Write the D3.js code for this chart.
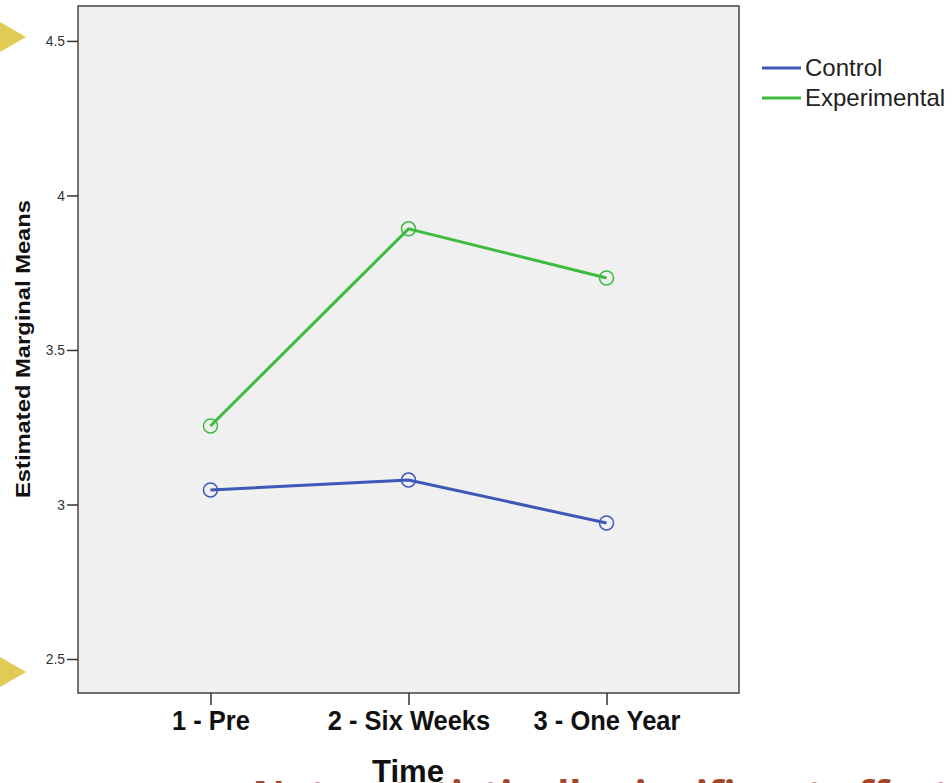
<!DOCTYPE html>
<html><head><meta charset="utf-8">
<script src="https://cdn.jsdelivr.net/npm/d3@7"></script>
<style>body{margin:0;background:#fff;} svg{display:block;}</style>
</head><body>
<script>
const categories = ["1 - Pre", "2 - Six Weeks", "3 - One Year"];
const seriesNames = ["Control", "Experimental"];
const controlValues = [3.047, 3.079, 2.940];
const experimentalValues = [3.254, 3.892, 3.733];
const yTicks = [2.5, 3, 3.5, 4, 4.5];
const yTickLabels = ["2.5", "3", "3.5", "4", "4.5"];
const colors = ["#3e58b8", "#3cbb3c"];

const W = 952, H = 783;
const svg = d3.select("body").append("svg").attr("width", W).attr("height", H);
const pL = 78, pR = 739, pT = 6, pB = 693;

const y = d3.scaleLinear().domain([2.39, 4.613]).range([pB, pT]);
const x = d3.scalePoint().domain(categories).range([pL, pR]).padding(0.669);

function squeeze(sel, f) {
  sel.each(function() {
    const w = this.getComputedTextLength();
    d3.select(this).attr("textLength", w * f).attr("lengthAdjust", "spacingAndGlyphs");
  });
}

// partially visible slide text (mostly below the bottom edge)
svg.append("text").attr("x", 222).attr("y", 809)
  .attr("font-family", "Open Sans, sans-serif").attr("font-weight", "bold").attr("font-size", 40)
  .attr("fill", "#a3462a").text("– Not a statistically significant effect");

// decorative triangles
svg.append("path").attr("d", "M0,22 L26,37 L0,52 Z").attr("fill", "#e0cc55");
svg.append("path").attr("d", "M0,657 L26,672 L0,687 Z").attr("fill", "#e0cc55");

svg.append("rect").attr("x", pL).attr("y", pT).attr("width", pR-pL).attr("height", pB-pT)
  .attr("fill", "#f0f0f0").attr("stroke", "#444").attr("stroke-width", 1.5);

const yAxis = svg.append("g").attr("transform", `translate(${pL},0)`)
  .call(d3.axisLeft(y).tickValues(yTicks).tickFormat((d,i)=>yTickLabels[i]).tickSize(11).tickPadding(2));
yAxis.select(".domain").remove();
yAxis.selectAll("line").attr("stroke", "#333").attr("stroke-width", 1.5);
yAxis.selectAll("text").attr("font-family", "Liberation Sans, Arial, sans-serif").attr("font-size", 15).attr("fill", "#333");
squeeze(yAxis.selectAll("text"), 0.92);

const xAxis = svg.append("g").attr("transform", `translate(0,${pB})`)
  .call(d3.axisBottom(x).tickSize(12).tickPadding(5));
xAxis.select(".domain").remove();
xAxis.selectAll("line").attr("stroke", "#333").attr("stroke-width", 1.5);
xAxis.selectAll("text").attr("font-family", "Liberation Sans, Arial, sans-serif")
  .attr("font-weight", "bold").attr("font-size", 28).attr("fill", "#111");
squeeze(xAxis.selectAll("text"), 0.91);

const yt = svg.append("text").attr("transform", `translate(30,349) rotate(-90)`)
  .attr("text-anchor", "middle").attr("font-family", "Liberation Sans, Arial, sans-serif")
  .attr("font-weight", "bold").attr("font-size", 21).attr("fill", "#111").text("Estimated Marginal Means");
yt.attr("textLength", 298).attr("lengthAdjust", "spacingAndGlyphs");

const tt = svg.append("text").attr("x", 408).attr("y", 782).attr("text-anchor", "middle")
  .attr("font-family", "Liberation Sans, Arial, sans-serif")
  .attr("font-weight", "bold").attr("font-size", 32).attr("fill", "#111").text("Time");
tt.attr("textLength", 72).attr("lengthAdjust", "spacingAndGlyphs");

const series = [controlValues, experimentalValues];
const line = d3.line().x((d,i)=>x(categories[i])).y(d=>y(d));
series.forEach((vals, s) => {
  svg.append("path").datum(vals).attr("d", line).attr("fill", "none")
    .attr("stroke", colors[s]).attr("stroke-width", 3);
  svg.selectAll(null).data(vals).enter().append("circle")
    .attr("cx", (d,i)=>x(categories[i])).attr("cy", d=>y(d)).attr("r", 7)
    .attr("fill", "none").attr("stroke", colors[s]).attr("stroke-width", 1.5);
});

const lg = svg.append("g");
seriesNames.forEach((n, i) => {
  const yy = 68 + i*30;
  lg.append("line").attr("x1", 762).attr("x2", 801).attr("y1", yy).attr("y2", yy)
    .attr("stroke", colors[i]).attr("stroke-width", 3);
  lg.append("text").attr("x", 805).attr("y", yy+8).attr("font-family", "Liberation Sans, Arial, sans-serif")
    .attr("font-size", 24).attr("fill", "#222").text(n);
});
</script>
</body></html>
